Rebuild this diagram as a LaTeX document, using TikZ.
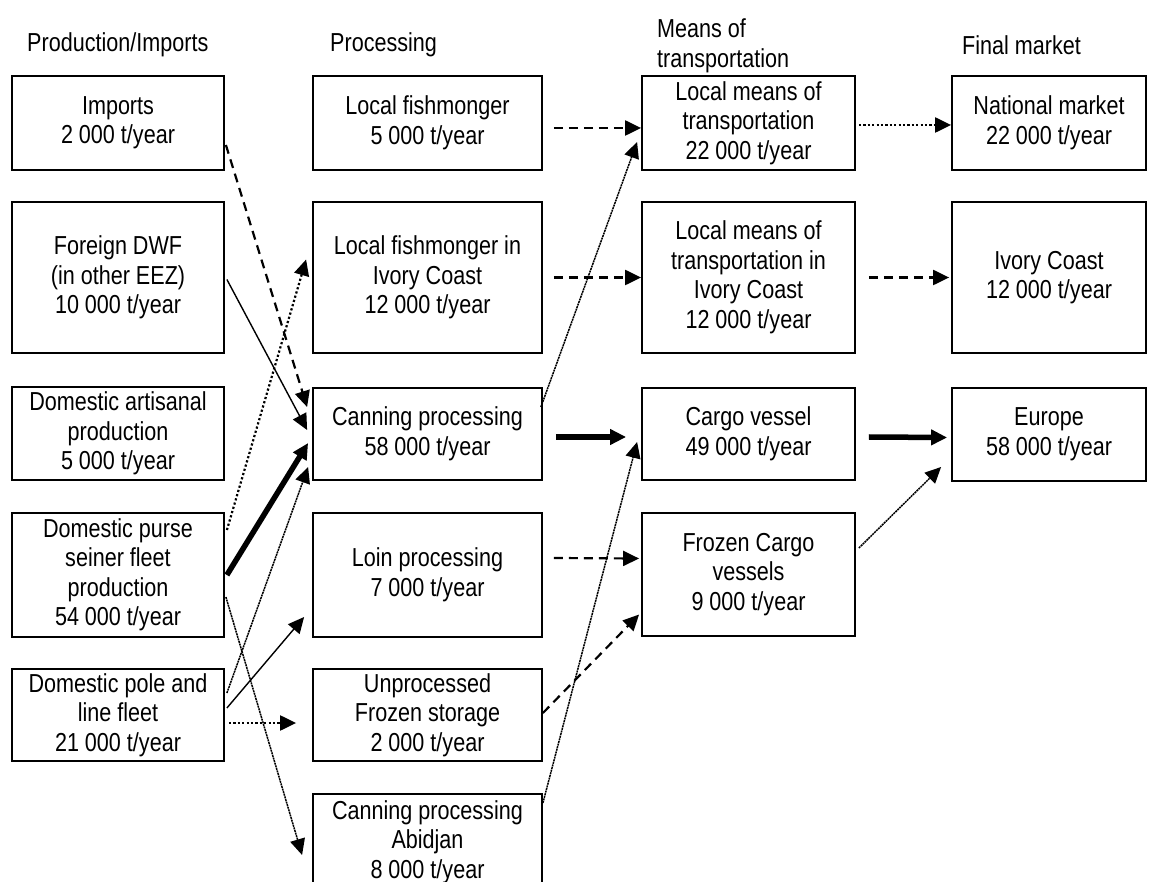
\documentclass[tikz,border=0pt]{standalone}
\usepackage{fontspec}
\setmainfont{Liberation Sans}[FakeStretch=0.83]
\usetikzlibrary{arrows.meta,calc}
\newcommand\mybox[6]{\node[box, minimum width={#3-#1}, minimum height={#4-#2}] (#5) at ({(#1+#3)/2},{(#2+#4)/2}) {#6};}
\begin{document}
\begin{tikzpicture}[x=1pt,y=-1pt,
  box/.style={draw, line width=1.8pt, align=center, inner sep=0pt, font=\fontsize{26}{29.5}\selectfont},
  hdr/.style={anchor=west, align=left, inner sep=0pt, font=\fontsize{26}{29.5}\selectfont},
  tipped/.style={-{Triangle[length=16pt,width=15pt]}},
  dashedarrow/.style={tipped, line width=2.2pt, dash pattern=on 9pt off 6pt},
  dottedarrow/.style={tipped, line width=2.2pt, dash pattern=on 2.2pt off 2.2pt},
  finearrow/.style={tipped, line width=1.5pt, dash pattern=on 2pt off 0.7pt},
  thinarrow/.style={tipped, line width=1.4pt},
  heavyarrow/.style={tipped, line width=5.5pt}]
\useasboundingbox (0,0) rectangle (1152,882);
\clip (0,0) rectangle (1152,882);
\fill[white] (0,0) rectangle (1152,882);
% headers
\node[hdr] (h1) at (27,45) {Production/Imports};
\node[hdr] (h2) at (330,45) {Processing};
\node[hdr] (h3) at (657,46) {Means of\\transportation};
\node[hdr] (h4) at (962,45) {Final market};
% column 1
\mybox{12}{76}{224}{170}{imports}{Imports\\2 000 t/year}
\mybox{12}{202}{224}{353}{foreign}{Foreign DWF\\(in other EEZ)\\10 000 t/year}
\mybox{12}{387}{224}{480}{artisanal}{Domestic artisanal\\production\\5 000 t/year}
\mybox{12}{513}{224}{637}{purse}{Domestic purse\\seiner fleet\\production\\54 000 t/year}
\mybox{12}{669}{224}{761}{pole}{Domestic pole and\\line fleet\\21 000 t/year}
% column 2
\mybox{313}{76}{542}{170}{lfm}{Local fishmonger\\5 000 t/year}
\mybox{313}{202}{542}{353}{lfic}{Local fishmonger in\\Ivory Coast\\12 000 t/year}
\mybox{313}{388}{542}{480}{canning}{Canning processing\\58 000 t/year}
\mybox{313}{513}{542}{637}{loin}{Loin processing\\7 000 t/year}
\mybox{313}{669}{542}{761}{unproc}{Unprocessed\\Frozen storage\\2 000 t/year}
\mybox{313}{794}{542}{890}{abidjan}{Canning processing\\Abidjan\\8 000 t/year}
% column 3
\mybox{642}{76}{855}{170}{lmt}{Local means of\\transportation\\22 000 t/year}
\mybox{642}{202}{855}{353}{lmtic}{Local means of\\transportation in\\Ivory Coast\\12 000 t/year}
\mybox{642}{388}{855}{480}{cargo}{Cargo vessel\\49 000 t/year}
\mybox{642}{513}{855}{636}{frozen}{Frozen Cargo\\vessels\\9 000 t/year}
% column 4
\mybox{952}{76}{1146}{170}{national}{National market\\22 000 t/year}
\mybox{952}{202}{1146}{353}{ivory}{Ivory Coast\\12 000 t/year}
\mybox{952}{388}{1146}{481}{europe}{Europe\\58 000 t/year}
% column 1 -> column 2
\draw[dashedarrow] ($(imports.east)+(1,22)$) -- ($(canning.west)+(-5,-27)$);
\draw[thinarrow] ($(foreign.east)+(2,2)$) -- ($(canning.west)+(-5,-4)$);
\draw[heavyarrow] ($(purse.east)+(2,0)$) -- ($(canning.west)+(-4,9)$);
\draw[dottedarrow] ($(purse.east)+(2,-45)$) -- ($(lfic.west)+(-6,-18)$);
\draw[finearrow] ($(purse.east)+(1,22)$) -- ($(abidjan.west)+(-10,13)$);
\draw[finearrow] ($(pole.east)+(2,-22)$) -- ($(canning.west)+(-4,33)$);
\draw[thinarrow] ($(pole.east)+(2,-7)$) -- ($(loin.west)+(-8,42)$);
\draw[dottedarrow] ($(pole.east)+(4,8)$) -- ($(unproc.west)+(-16,8)$);
% column 2 -> column 3
\draw[dashedarrow] ($(lfm.east)+(11,5)$) -- ($(lmt.west)+(0,5)$);
\draw[dashedarrow] ($(lfic.east)+(11,0)$) -- ($(lmtic.west)+(0,0)$);
\draw[finearrow] ($(canning.east)+(-2,-27)$) -- ($(lmt.west)+(-4,19)$);
\draw[heavyarrow] ($(canning.east)+(13,3)$) -- ($(cargo.west)+(-15,3)$);
\draw[dashedarrow] ($(loin.east)+(11,-17)$) -- ($(frozen.west)+(-2,-16)$);
\draw[finearrow] ($(abidjan.east)+(0,-39)$) -- ($(cargo.west)+(-4,8)$);
\draw[dashedarrow] ($(unproc.east)+(0,-2)$) -- ($(frozen.west)+(-2,40)$);
% column 3 -> column 4
\draw[dottedarrow] ($(lmt.east)+(3,2)$) -- ($(national.west)+(0,2)$);
\draw[dashedarrow] ($(lmtic.east)+(13,0)$) -- ($(ivory.west)+(-2,0)$);
\draw[heavyarrow] ($(cargo.east)+(13,3)$) -- ($(europe.west)+(-4,3)$);
\draw[finearrow] ($(frozen.east)+(3,-26.5)$) -- ($(europe.west)+(-10,32.5)$);
\end{tikzpicture}
\end{document}
